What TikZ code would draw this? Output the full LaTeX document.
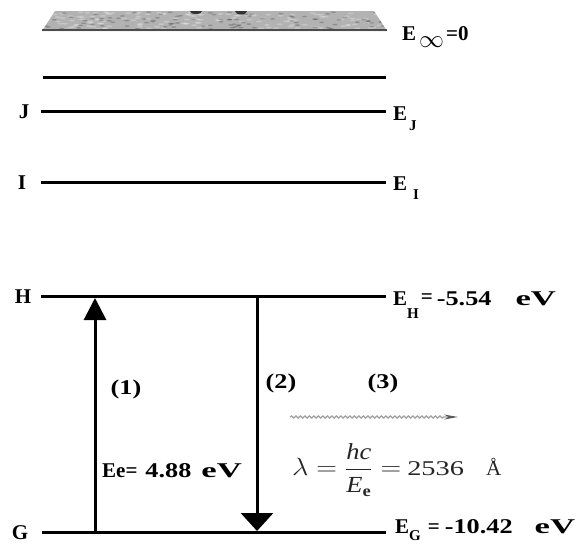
\documentclass[tikz,border=0pt]{standalone}
\usepackage{amsmath}
\usepackage{graphicx}
\usepackage{fontspec}
\setmainfont{Liberation Serif}
\usetikzlibrary{arrows.meta,decorations.pathmorphing}
\newcommand\lvsub[2][-11pt]{\raisebox{#1}{\fontsize{15}{15}\selectfont #2}}
\newcommand\wnum[1]{\scalebox{1.25}[1]{#1}}
\newcommand\wev{\scalebox{1.65}[1]{eV}}
\begin{document}
\begin{tikzpicture}[x=1pt,y=-1pt,
  level/.style={line width=3pt, black},
  arrowline/.style={line width=3pt, black},
  lbl/.style={font=\fontsize{21}{21}\selectfont\bfseries, inner sep=0pt, anchor=base west},
  letter/.style={font=\fontsize{21}{21}\selectfont\bfseries, inner sep=0pt, anchor=base},
  formula/.style={font=\fontsize{23}{26}\selectfont, text=black!85, inner sep=0pt, anchor=west},
  wave/.style={draw=gray!75, line width=1.3pt, decorate,
    decoration={snake, amplitude=1pt, segment length=4.5pt, post length=14pt}},
]
\useasboundingbox (0,0) rectangle (583,549);
% continuum band
\begin{scope}
\clip (55,11) -- (374,11) -- (387,31) -- (42,31) -- cycle;
\fill[gray!60] (40,8) rectangle (390,34);
\pgfmathsetseed{7}
\foreach \i in {1,...,140} {
  \fill[white, opacity=0.25] ({45+rnd*340},{12+rnd*17}) ellipse (3pt and 0.9pt);
}
\foreach \i in {1,...,100} {
  \fill[black, opacity=0.2] ({45+rnd*340},{12+rnd*17}) ellipse (2.5pt and 0.8pt);
}
\fill[black!80] (190,11) arc[start angle=180, end angle=0, x radius=6, y radius=3] -- cycle;
\fill[black!80] (235,11) arc[start angle=180, end angle=0, x radius=6, y radius=3.5] -- cycle;
\end{scope}
\draw[black!70, line width=2pt] (42,30) -- (387,30);
% levels
\coordinate (c0l) at (43,77);  \coordinate (c0r) at (386,77);
\coordinate (Jl) at (41,111);  \coordinate (Jr) at (386,111);
\coordinate (Il) at (41,182);  \coordinate (Ir) at (386,182);
\coordinate (Hl) at (41,296);  \coordinate (Hr) at (386,296);
\coordinate (Gl) at (42,532);  \coordinate (Gr) at (386,532);
\draw[level] (c0l) -- (c0r);
\draw[level] (Jl) -- (Jr);
\draw[level] (Il) -- (Ir);
\draw[level] (Hl) -- (Hr);
\draw[level] (Gl) -- (Gr);
% left letters
\node[letter] (tJ) at (24,118) {J};
\node[letter] (tI) at (22,189) {I};
\node[letter] (tH) at (23,303) {H};
\node[letter] (tG) at (20,539) {G};
% right labels
\node[lbl] (eInf) at (402,40) {E\hspace{3pt}\raisebox{-7pt}{\fontsize{26}{26}\selectfont$\infty$}\hspace{2pt}=0};
\node[lbl] (eJ) at (393,120) {E\hspace{2pt}\lvsub[-10pt]{J}};
\node[lbl] (eI) at (393,190) {E\hspace{6pt}\lvsub[-9pt]{I}};
\node[lbl] (eH) at (393,305) {E\lvsub[-13pt]{H}\hspace{2pt}\raisebox{2pt}{=}\hspace{4pt}\wnum{-5.54}\hspace{24pt}\wev};
\node[lbl] (eG) at (395,533) {E\lvsub[-7pt]{G}\hspace{7pt}=\hspace{5pt}\wnum{-10.42}\hspace{22pt}\wev};
% arrows
\coordinate (a1s) at (95,532); \coordinate (a1e) at (95,298);
\coordinate (a2s) at (257,296); \coordinate (a2e) at (257,531);
\draw[arrowline, -{Triangle[length=22pt 0, width=22pt 0]}] (a1s) -- (a1e);
\draw[arrowline, -{Triangle[length=18pt 0, width=32pt 0]}] (a2s) -- (a2e);
% process labels
\node[letter] (n1) at (126,394) {\wnum{(1)}};
\node[letter] (n2) at (281,388) {\wnum{(2)}};
\node[letter] (n3) at (383,388) {\wnum{(3)}};
\node[lbl] (ee) at (102,477) {Ee=\hspace{8pt}\wnum{4.88}\hspace{10pt}\wev};
% photon
\coordinate (w1) at (290,417); \coordinate (w2) at (458,417);
\draw[wave, -{Stealth[length=14pt 0, width=5pt 0, black!65]}] (w1) -- (w2);
\node[formula] (lam) at (292,470) {\scalebox{1.15}[1]{$\lambda = \dfrac{\textit{hc}}{\textit{E}_{\textbf{e}}} =$}\hspace{6pt}{\fontsize{21}{24}\selectfont\scalebox{1.35}[1]{2536}\hspace{22pt}Å}};
\end{tikzpicture}
\end{document}
